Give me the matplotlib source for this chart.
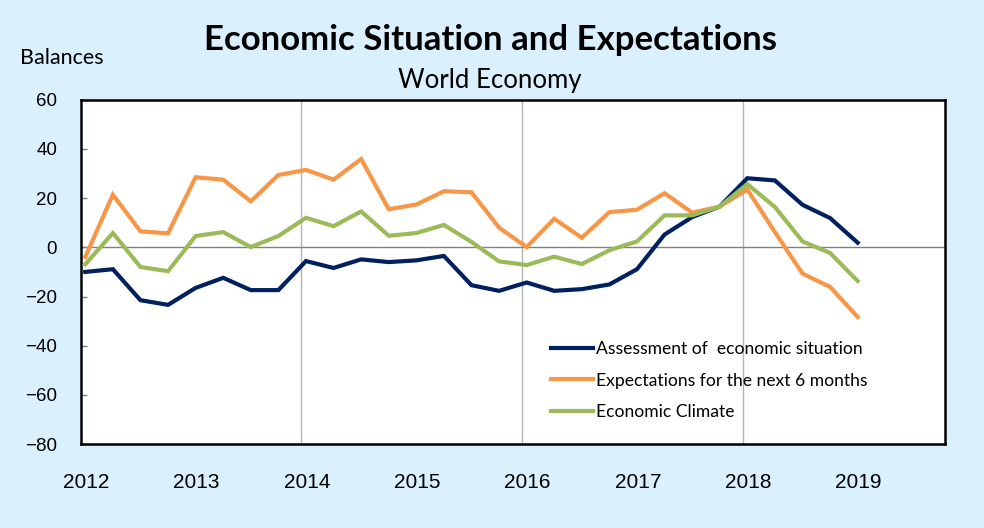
import matplotlib
matplotlib.use("Agg")
import matplotlib.pyplot as plt
import numpy as np

# quarterly survey results, Q1 2012 .. Q1 2019
start_year = 2012
assessment = [-10.0, -8.9, -21.5, -23.4, -16.5, -12.4, -17.4, -17.4,
              -5.6, -8.4, -4.9, -6.0, -5.3, -3.5, -15.4, -17.7,
              -14.3, -17.7, -17.0, -15.1, -8.9, 5.2, 12.3, 16.6,
              28.1, 27.2, 17.3, 11.9, 1.9]
expectations = [-3.9, 21.4, 6.5, 5.7, 28.5, 27.5, 18.7, 29.4,
                31.5, 27.5, 35.9, 15.5, 17.4, 22.8, 22.4, 8.0,
                0.1, 11.6, 3.9, 14.3, 15.3, 22.0, 14.1, 16.6,
                23.5, 6.2, -10.7, -16.1, -28.3]
climate = [-6.9, 5.8, -8.0, -9.7, 4.6, 6.2, 0.1, 4.6,
           12.0, 8.6, 14.6, 4.7, 5.8, 9.1, 2.2, -5.7,
           -7.2, -3.8, -6.8, -1.2, 2.4, 13.0, 13.0, 16.6,
           25.7, 16.4, 2.4, -2.3, -13.7]
years = list(range(2012, 2020))
labels = ["Assessment of  economic situation",
          "Expectations for the next 6 months",
          "Economic Climate"]
colors = ["#002060", "#f79646", "#9bbb59"]

bg = "#dbf0fd"
n = len(assessment)
# survey taken in the first month of each quarter -> mid-month position
x = start_year + np.arange(n) / 4 + 0.5 / 12

fig = plt.figure(figsize=(9.84, 5.28), dpi=100, facecolor=bg)
ax = fig.add_axes([0.082, 0.159, 0.878, 0.652])
ax.set_facecolor("white")

for series, lab, col in zip([assessment, expectations, climate], labels, colors):
    ax.plot(x, series, color=col, lw=3, label=lab, solid_joinstyle="miter", zorder=3)

ax.set_xlim(2012, 2019.83)
ax.set_ylim(-80, 60)
ax.set_yticks(np.arange(-80, 61, 20))
ax.tick_params(axis="y", direction="in", length=4.5, width=1, color="#808080",
               pad=17, labelsize=13.5)
for t in ax.get_yticklabels():
    t.set_fontfamily("Liberation Sans")

ax.set_xticks([y + 0.05 for y in years])
ax.set_xticklabels([str(y) for y in years], fontfamily="Liberation Sans", fontsize=15)
ax.tick_params(axis="x", length=0, pad=20.5)

ax.axhline(0, color="#808080", lw=1, zorder=2)
for gx in [2014, 2016, 2018]:
    ax.axvline(gx, color="#b4b4b4", lw=1, zorder=1)

for s in ax.spines.values():
    s.set_color("black")
    s.set_linewidth(1.8)

ax.legend(loc="upper left", bbox_to_anchor=(0.544, 0.300), frameon=False,
          prop={"family": "Lato", "size": 12.6}, handlelength=2.4,
          handletextpad=0.2, labelspacing=0.9, borderpad=0, borderaxespad=0)

fig.text(0.498, 0.924, "Economic Situation and Expectations", ha="center", va="center",
         fontfamily="Lato", fontweight="bold", fontsize=25)
fig.text(0.498, 0.847, "World Economy", ha="center", va="center",
         fontfamily="Lato", fontsize=18.5)
fig.text(0.02, 0.89, "Balances", ha="left", va="center",
         fontfamily="Lato", fontsize=15.5)

fig.savefig("out.png", dpi=100, facecolor=bg)
